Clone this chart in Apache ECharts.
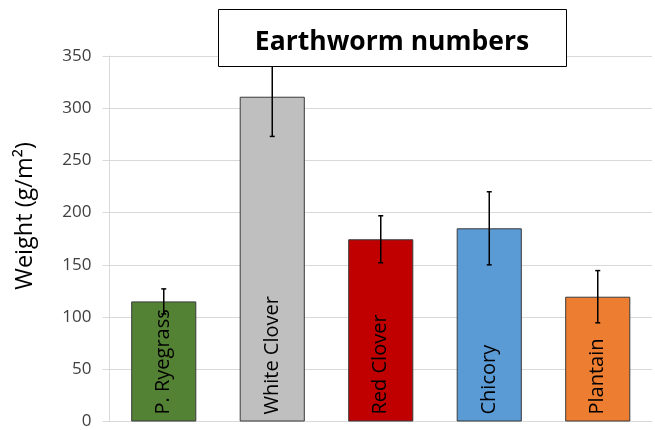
<!DOCTYPE html>
<html>
<head>
<meta charset="utf-8">
<script src="https://cdn.jsdelivr.net/npm/echarts@6/dist/echarts.min.js"></script>
<style>html,body{margin:0;padding:0;background:#fff}#c{width:655px;height:430px}</style>
</head>
<body>
<div id="c"></div>
<script>
const categories = ['P. Ryegrass', 'White Clover', 'Red Clover', 'Chicory', 'Plantain'];
const values = [115, 311, 174.5, 185, 119.5];
const errors = [12, 38, 22.5, 35, 25];
const colors = ['#548235', '#bfbfbf', '#c00000', '#5b9bd5', '#ed7d31'];
const yTicks = [0, 50, 100, 150, 200, 250, 300, 350];
const titleText = 'Earthworm numbers';
const yName = 'Weight (g/m²)';

const font = '"Open Sans", "Liberation Sans", sans-serif';
const chart = echarts.init(document.getElementById('c'), null, {renderer: 'canvas'});

const errData = values.map((v, i) => [i, v - errors[i], v + errors[i]]);

chart.setOption({
  animation: false,
  grid: {left: 109.5, right: 3, top: 56, bottom: 6.5, containLabel: false},
  xAxis: {
    type: 'category',
    data: categories,
    axisLine: {show: true, lineStyle: {color: '#d9d9d9', width: 1}},
    axisTick: {show: false},
    axisLabel: {show: false},
    splitLine: {show: false}
  },
  yAxis: {
    type: 'value',
    min: yTicks[0],
    max: yTicks[yTicks.length - 1],
    interval: 50,
    axisLine: {show: true, lineStyle: {color: '#d9d9d9', width: 1}},
    axisTick: {show: true, length: 7, lineStyle: {color: '#d9d9d9'}},
    axisLabel: {color: '#404040', fontSize: 17, fontFamily: font, margin: 18},
    splitLine: {show: true, lineStyle: {color: '#d9d9d9', width: 1}}
  },
  series: [
    {
      type: 'bar',
      barWidth: '60%',
      data: values.map((v, i) => ({value: v, itemStyle: {color: colors[i]}})),
      itemStyle: {borderColor: '#3a3a3a', borderWidth: 1},
      label: {
        show: true,
        position: 'insideBottom',
        rotate: 90,
        align: 'left',
        verticalAlign: 'middle',
        distance: 7,
        formatter: p => categories[p.dataIndex],
        color: '#000',
        fontSize: 20,
        fontFamily: font
      },
      z: 2
    },
    {
      type: 'custom',
      data: errData,
      z: 5,
      renderItem: function (params, api) {
        const x = api.value(0);
        const lo = api.coord([x, api.value(1)]);
        const hi = api.coord([x, api.value(2)]);
        const cw = 2.5;
        const style = {stroke: '#000', lineWidth: 1.5};
        return {
          type: 'group',
          children: [
            {type: 'line', shape: {x1: hi[0], y1: hi[1], x2: lo[0], y2: lo[1]}, style: style},
            {type: 'line', shape: {x1: hi[0] - cw, y1: hi[1], x2: hi[0] + cw, y2: hi[1]}, style: style},
            {type: 'line', shape: {x1: lo[0] - cw, y1: lo[1], x2: lo[0] + cw, y2: lo[1]}, style: style}
          ]
        };
      }
    }
  ],
  graphic: [
    {
      type: 'group',
      z: 100,
      children: [
        {type: 'rect', shape: {x: 218.5, y: 9.5, width: 348, height: 57}, style: {fill: '#fff', stroke: '#000', lineWidth: 1}, z: 100},
        {type: 'text', x: 392, y: 42, style: {text: titleText, fill: '#000', font: 'bold 26.5px ' + font, textAlign: 'center', textVerticalAlign: 'middle'}, z: 101}
      ]
    },
    {
      type: 'text',
      x: 25, y: 216,
      rotation: Math.PI / 2,
      style: {text: yName, fill: '#000', font: '23.5px ' + font, textAlign: 'center', textVerticalAlign: 'middle'},
      z: 100
    }
  ]
});
</script>
</body>
</html>
